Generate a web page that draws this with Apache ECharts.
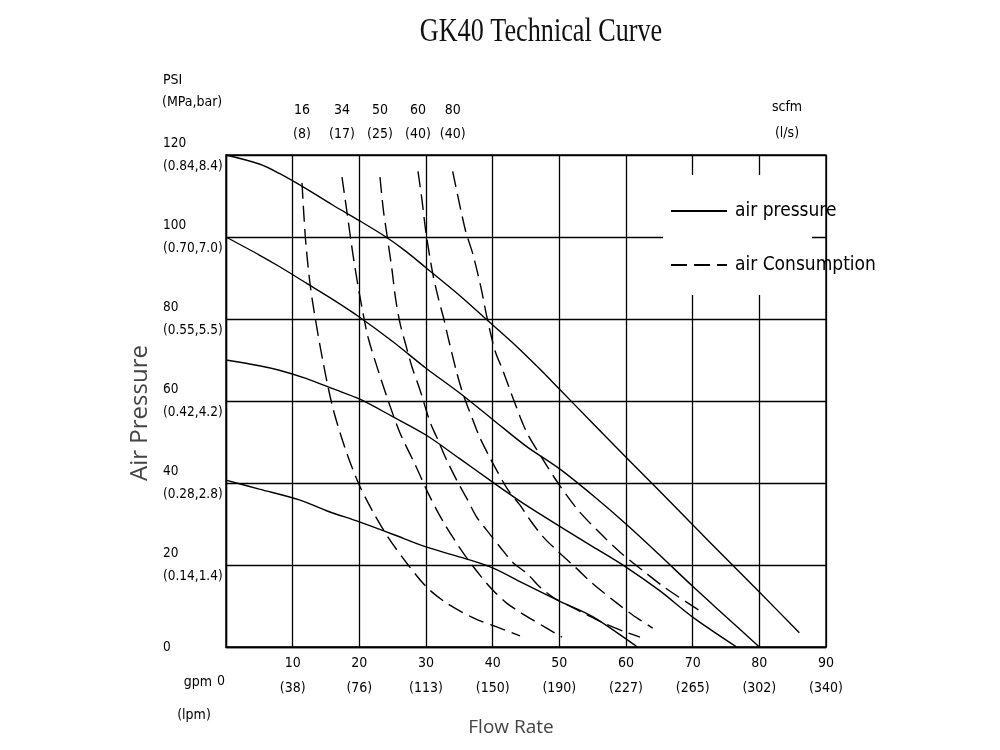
<!DOCTYPE html>
<html>
<head>
<meta charset="utf-8">
<title>GK40 Technical Curve</title>
<script src="https://cdn.jsdelivr.net/npm/echarts@6/dist/echarts.min.js"></script>
<style>
  html, body { margin: 0; padding: 0; background: #fff; }
  #main { width: 1000px; height: 750px; }
</style>
</head>
<body>
<div id="main"></div>
<script>
// tick labels
const gpmTicks = [0, 10, 20, 30, 40, 50, 60, 70, 80, 90];
const lpmTicks = ['', '(38)', '(76)', '(113)', '(150)', '(190)', '(227)', '(265)', '(302)', '(340)'];
const psiTicks = [0, 20, 40, 60, 80, 100, 120];
const mpaBarTicks = ['', '(0.14,1.4)', '(0.28,2.8)', '(0.42,4.2)', '(0.55,5.5)', '(0.70,7.0)', '(0.84,8.4)'];

// air consumption labels (top of each dashed curve)
const scfmLabels = ['16\n(8)', '34\n(17)', '50\n(25)', '60\n(40)', '80\n(40)'];

// air pressure curves  [gpm, psi]
const press120 = [[0,120],[5,117.8],[8,115.5],[12,111.8],[16,107.8],[20,104],[24,100],[27,96.5],[30,92.5],[35,85.8],[39,80],[43,74.2],[47,67.9],[50,62.9],[55,54.6],[60,46.3],[65,38.1],[70,29.8],[75,21.6],[80,13.4],[86,3.5]];
const press100 = [[0,100],[5,95.6],[8,92.8],[12,88.8],[16,84.8],[20,80.5],[25,74.5],[30,68],[35,62],[40,55.5],[45,49],[50,43.5],[55,37],[60,30],[65,22.5],[70,14.8],[75,7.4],[80,0]];
const press70 = [[0,70],[5,68.6],[8,67.5],[12,65.5],[16,63],[20,60.5],[25,56.2],[30,51.7],[35,46],[40,40.2],[45,34.6],[50,29.5],[55,24.5],[60,19.5],[65,13.8],[70,7.3],[76.6,0]];
const press40 = [[0,40.7],[5,38.5],[11,35.9],[15,33.3],[20,30.5],[25,27.5],[30,24.4],[36,21.5],[40,19.3],[45,15.2],[50,11.2],[55,7.4],[61.7,0]];

// air consumption curves  [gpm, psi]
const cons16 = [[11.4,113.2],[11.9,100],[12.5,90],[13.1,83],[14.5,70],[16,58.5],[17.8,48.8],[19.8,40.2],[21.9,33.4],[24.3,26.8],[27.1,20.5],[30.1,14.6],[33.1,10.7],[37.1,7.1],[40.6,4.9],[44.1,2.7]];
const cons34 = [[17.4,114.6],[18.1,106.6],[19.1,95.1],[20.1,85.4],[21.3,75.6],[22.8,67.6],[24.3,60.2],[26.1,52.2],[28.4,44.4],[30.3,37.6],[32.6,30.5],[35.6,22.9],[38.3,17.1],[40,13.9],[42.1,10.7],[44.1,8.5],[46,6.6],[48.1,4.6],[50.4,2.4]];
const cons50 = [[23.1,114.6],[23.6,106.6],[24.1,101],[24.9,92],[25.4,85.4],[26.1,79],[26.9,74.1],[27.9,68.3],[29.1,62.7],[30.6,54.9],[31.8,50.5],[33.1,45.6],[34.6,40.7],[36.1,36.3],[37.6,31.7],[39.1,28.5],[41.1,24.4],[43.1,20.5],[45.1,18],[47.1,14.6],[49,12.2],[51.5,10],[54,8],[57,5.6],[60,3.6],[62.1,2.4]];
const cons60 = [[28.8,116],[29.4,109],[30,101],[31,91.2],[31.8,85.4],[32.6,80.5],[33.3,75.6],[34.6,67],[35.6,61.5],[37,55.5],[38.1,51],[39.6,46.1],[40.4,43.7],[42.3,38.3],[44.1,34.6],[45.6,31],[47.6,26.8],[50,23],[52.5,19.3],[54.9,15.6],[58.4,11],[61,7.8],[64,4.6]];
const cons80 = [[34,116],[35.9,101.7],[37,96],[38.2,88],[39.2,80],[40.4,72],[41.4,68],[43.1,60.5],[45.1,52.4],[47.6,45.6],[49.8,40],[52.8,33.4],[56.1,27.8],[59.2,23],[62.4,18.8],[65.9,14.4],[71.6,8.3]];

const pressureCurves = [press120, press100, press70, press40];
const consumptionCurves = [cons16, cons34, cons50, cons60, cons80];

const narrow = '"DejaVu Sans Condensed", "Liberation Sans Narrow", sans-serif';
const light = '"Open Sans", "Noto Sans", sans-serif';
const LABEL_Y = 128; // height of the scfm labels above the grid, in psi

function curve(name, data, dashed) {
  return {
    name: name,
    type: 'line',
    data: data,
    symbol: 'none',
    smooth: 0.3,
    silent: true,
    z: 3,
    itemStyle: { color: '#000' },
    lineStyle: { color: '#000', width: 1.4, type: dashed ? [16, 7] : 'solid' }
  };
}

const series = [];
pressureCurves.forEach(d => series.push(curve('air pressure', d, false)));
consumptionCurves.forEach(d => series.push(curve('air Consumption', d, true)));
series.push({
  type: 'scatter',
  silent: true,
  clip: false,
  symbolSize: 0,
  itemStyle: { opacity: 1 },
  data: consumptionCurves.map(d => [d[0][0], LABEL_Y]),
  label: {
    show: true,
    position: 'inside',
    formatter: p => scfmLabels[p.dataIndex],
    color: '#000',
    opacity: 1,
    textBorderWidth: 0,
    fontFamily: narrow,
    fontSize: 14,
    lineHeight: 24
  }
});

const chart = echarts.init(document.getElementById('main'));

const option = {
  backgroundColor: '#fff',
  animation: false,
  grid: {
    left: 226, right: 174, top: 155, bottom: 103,
    show: true, borderColor: '#000', borderWidth: 1.4, backgroundColor: 'transparent'
  },
  legend: {
    data: ['air pressure', 'air Consumption'],
    orient: 'vertical',
    left: 670,
    top: 199,
    padding: 0,
    z: 10,
    itemWidth: 56,
    itemHeight: 14,
    itemGap: 30,
    selectedMode: false,
    itemStyle: { opacity: 0, borderWidth: 0 },
    textStyle: { color: '#000', fontFamily: narrow, fontSize: 19, lineHeight: 24, padding: [0, 0, 0, 3] }
  },
  xAxis: {
    type: 'value',
    min: 0, max: 90, interval: 10,
    axisLine: { show: true, lineStyle: { color: '#000', width: 1.4 } },
    axisTick: { show: false },
    splitLine: { show: true, lineStyle: { color: '#000', width: 1.3 } },
    axisLabel: {
      margin: 4,
      color: '#000',
      fontFamily: narrow,
      fontSize: 14,
      lineHeight: 25,
      formatter: v => v === 0 ? '' : v + '\n' + lpmTicks[gpmTicks.indexOf(v)]
    }
  },
  yAxis: {
    type: 'value',
    min: 0, max: 120, interval: 20,
    axisLine: { show: true, lineStyle: { color: '#000', width: 1.4 } },
    axisTick: { show: false },
    splitLine: { show: true, lineStyle: { color: '#000', width: 1.3 } },
    axisLabel: {
      margin: 63,
      align: 'left',
      padding: [8, 0, 0, 0],
      color: '#000',
      fontFamily: narrow,
      fontSize: 13.5,
      lineHeight: 23,
      formatter: v => v === 0 ? '0' : v + '\n' + mpaBarTicks[psiTicks.indexOf(v)]
    }
  },
  graphic: [
    // white box behind the legend, it breaks the grid lines
    { type: 'rect', z: 5, silent: true, shape: { x: 663, y: 175, width: 149, height: 120 }, style: { fill: '#fff' } },
    { type: 'text', x: 541, y: 32, scaleX: 0.77, silent: true,
      style: { text: 'GK40 Technical Curve', fill: '#111', font: '34px "Liberation Serif", "DejaVu Serif", serif', align: 'center', verticalAlign: 'middle' } },
    { type: 'text', x: 163, y: 80, silent: true,
      style: { text: 'PSI', fill: '#000', font: '14px ' + narrow, align: 'left', verticalAlign: 'middle' } },
    { type: 'text', x: 162, y: 102, silent: true,
      style: { text: '(MPa,bar)', fill: '#000', font: '14px ' + narrow, align: 'left', verticalAlign: 'middle' } },
    { type: 'text', x: 787, y: 107, silent: true,
      style: { text: 'scfm', fill: '#000', font: '14px ' + narrow, align: 'center', verticalAlign: 'middle' } },
    { type: 'text', x: 787, y: 133, silent: true,
      style: { text: '(l/s)', fill: '#000', font: '14px ' + narrow, align: 'center', verticalAlign: 'middle' } },
    { type: 'text', x: 198, y: 682, silent: true,
      style: { text: 'gpm', fill: '#000', font: '14px ' + narrow, align: 'center', verticalAlign: 'middle' } },
    { type: 'text', x: 221, y: 681, silent: true,
      style: { text: '0', fill: '#000', font: '14px ' + narrow, align: 'center', verticalAlign: 'middle' } },
    { type: 'text', x: 194, y: 715, silent: true,
      style: { text: '(lpm)', fill: '#000', font: '14px ' + narrow, align: 'center', verticalAlign: 'middle' } },
    { type: 'text', x: 511, y: 728, silent: true,
      style: { text: 'Flow Rate', fill: '#444', font: '19px ' + light, align: 'center', verticalAlign: 'middle' } },
    { type: 'text', x: 140, y: 413, rotation: Math.PI / 2, silent: true,
      style: { text: 'Air Pressure', fill: '#444', font: '24px ' + light, align: 'center', verticalAlign: 'middle' } }
  ],
  series: series
};

chart.setOption(option);
</script>
</body>
</html>
